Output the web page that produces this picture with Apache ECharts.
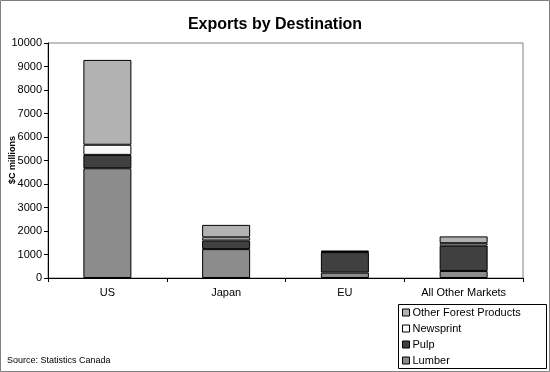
<!DOCTYPE html>
<html><head><meta charset="utf-8">
<script src="https://cdn.jsdelivr.net/npm/echarts@6/dist/echarts.min.js"></script>
<style>html,body{margin:0;padding:0;background:#fff}#c{width:550px;height:372px}</style>
</head><body><div id="c"></div>
<script>
var categories = ['US', 'Japan', 'EU', 'All Other Markets'];
var lumber = [4670, 1230, 230, 300];
var pulp = [570, 370, 870, 1080];
var newsprint = [430, 130, 20, 100];
var otherForest = [3610, 530, 40, 290];
var yTicks = [0, 1000, 2000, 3000, 4000, 5000, 6000, 7000, 8000, 9000, 10000];

var FONT = '"Liberation Sans", Arial, sans-serif';
var chart = echarts.init(document.getElementById('c'), null, {renderer: 'canvas'});
function s(name, data, color) {
  return {name: name, type: 'bar', stack: 'x', data: data, barWidth: 48,
    itemStyle: {color: color, borderColor: '#000', borderWidth: 1}, emphasis: {disabled: true}};
}
chart.setOption({
  animation: false,
  backgroundColor: '#fff',
  textStyle: {fontFamily: FONT},
  title: {text: 'Exports by Destination', left: 270, textAlign: 'center', top: 12,
    textStyle: {fontFamily: FONT, fontSize: 16, fontWeight: 'bold', color: '#000'}},
  grid: {left: 48, right: 27, top: 43, bottom: 94, containLabel: false, outerBoundsMode: 'none',
    show: true, borderColor: '#808080', borderWidth: 1, backgroundColor: 'transparent'},
  xAxis: {type: 'category', data: categories,
    axisLine: {lineStyle: {color: '#000', width: 1}},
    axisTick: {show: true, length: 4, lineStyle: {color: '#000'}},
    axisLabel: {color: '#000', fontSize: 11, fontFamily: FONT, margin: 9}},
  yAxis: {type: 'value', min: yTicks[0], max: yTicks[yTicks.length - 1], interval: 1000,
    axisLine: {show: true, lineStyle: {color: '#000'}},
    axisTick: {show: true, length: 4, lineStyle: {color: '#000'}},
    splitLine: {show: false},
    axisLabel: {color: '#000', fontSize: 11, fontFamily: FONT, margin: 6, formatter: function (v) { return String(v); }}},
  legend: {orient: 'vertical', left: 402, top: 307, padding: 0, itemWidth: 7, itemHeight: 7, itemGap: 5,
    icon: 'rect', data: ['Other Forest Products', 'Newsprint', 'Pulp', 'Lumber'],
    textStyle: {fontSize: 11, color: '#000', fontFamily: FONT, padding: [0, 0, 0, -2]},
    itemStyle: {borderColor: '#000', borderWidth: 1}},
  graphic: [
    {type: 'rect', shape: {x: 0.5, y: 0.5, width: 549, height: 371}, style: {fill: null, stroke: '#808080', lineWidth: 1}, silent: true},
    {type: 'rect', shape: {x: 398.5, y: 304.5, width: 148, height: 64}, style: {fill: null, stroke: '#000', lineWidth: 1}, silent: true},
    {type: 'text', x: 13, y: 160, rotation: Math.PI / 2,
      style: {text: '$C millions', fontSize: 9, fontWeight: 'bold', fill: '#000', fontFamily: FONT, align: 'center', verticalAlign: 'middle'}},
    {type: 'text', left: 7, top: 356, style: {text: 'Source: Statistics Canada', fontSize: 9, fill: '#000', fontFamily: FONT}}
  ],
  series: [
    s('Lumber', lumber, '#8c8c8c'),
    s('Pulp', pulp, '#404040'),
    s('Newsprint', newsprint, '#f8f8f8'),
    s('Other Forest Products', otherForest, '#b2b2b2')
  ]
});
</script></body></html>
